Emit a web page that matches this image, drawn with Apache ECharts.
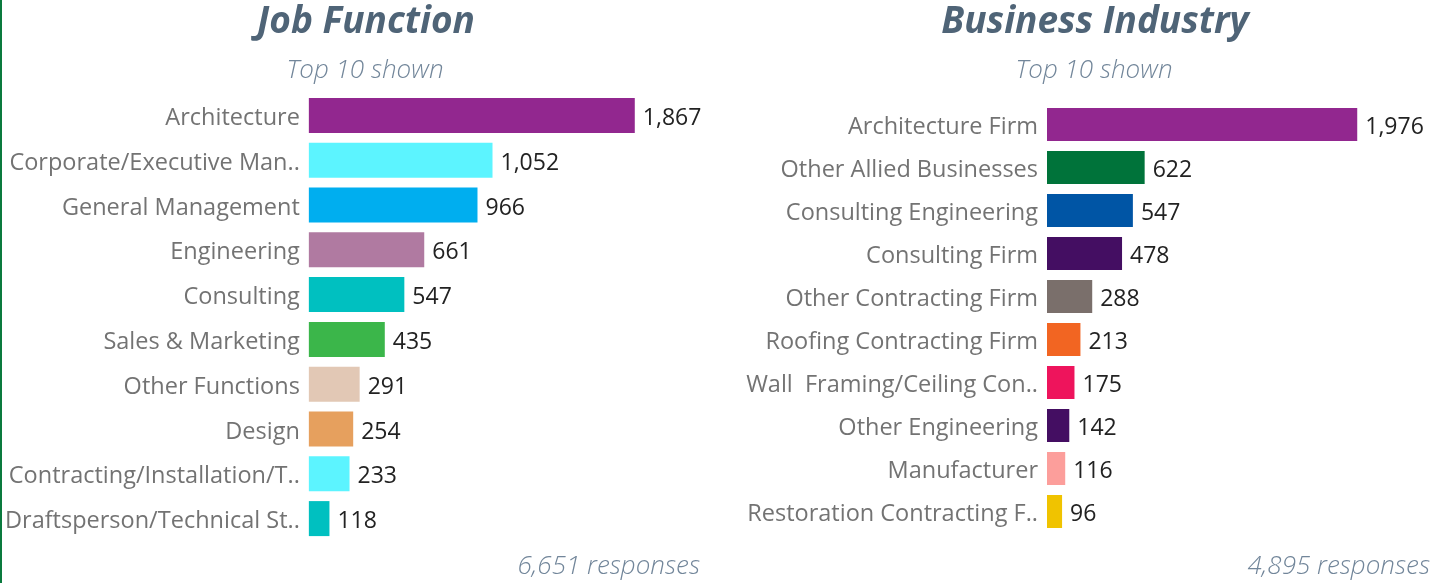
<!DOCTYPE html>
<html>
<head>
<meta charset="utf-8">
<script src="https://cdn.jsdelivr.net/npm/echarts@6/dist/echarts.min.js"></script>
<style>
  html, body { margin: 0; padding: 0; background: #fff; }
  #chart { width: 1434px; height: 583px; box-sizing: border-box; border-left: 2px solid #0a7a3e; }
</style>
</head>
<body>
<div id="chart"></div>
<script>
/* 数据 */
const jobNames = ['Architecture', 'Corporate/Executive Man..', 'General Management', 'Engineering', 'Consulting',
    'Sales & Marketing', 'Other Functions', 'Design', 'Contracting/Installation/T..', 'Draftsperson/Technical St..'];
const jobValues = [1867, 1052, 966, 661, 547, 435, 291, 254, 233, 118];
const jobColors = ['#92278f', '#5cf4ff', '#00aeef', '#b07aa1', '#00c0c0', '#3bb64a', '#e2c8b5', '#e6a05e', '#5cf4ff', '#00c0c0'];

const bizNames = ['Architecture Firm', 'Other Allied Businesses', 'Consulting Engineering', 'Consulting Firm',
    'Other Contracting Firm', 'Roofing Contracting Firm', 'Wall  Framing/Ceiling Con..', 'Other Engineering',
    'Manufacturer', 'Restoration Contracting F..'];
const bizValues = [1976, 622, 547, 478, 288, 213, 175, 142, 116, 96];
const bizColors = ['#92278f', '#00733a', '#0055a5', '#440e62', '#7a6f6b', '#f26522', '#ee145c', '#440e62', '#fc9e9b', '#f0c300'];

const FONT = '"Open Sans", "Noto Sans", sans-serif';
const titleColor = '#4f6477';
const subColor = '#72869a';

function fmt (v) {
    return v.toLocaleString('en-US');
}

function barSeries (idx, values, colors, barW) {
    return {
        type: 'bar',
        xAxisIndex: idx,
        yAxisIndex: idx,
        barWidth: barW,
        data: values.map((v, i) => ({ value: v, itemStyle: { color: colors[i] } })),
        label: {
            show: true,
            position: 'right',
            distance: 8,
            color: '#222',
            fontFamily: FONT,
            fontSize: 23,
            offset: [0, 3],
            formatter: (p) => fmt(p.value)
        },
        silent: true
    };
}

function catAxis (idx, names) {
    return {
        type: 'category',
        gridIndex: idx,
        inverse: true,
        data: names,
        axisLine: { show: false },
        axisTick: { show: false },
        axisLabel: {
            color: '#737373', fontFamily: FONT, fontSize: 23.5, margin: 9,
            verticalAlign: 'top', lineHeight: 6   /* 文字略往下移 */
        }
    };
}

function valAxis (idx) {
    return {
        type: 'value',
        gridIndex: idx,
        min: 0,
        max: 2000,
        show: false
    };
}

const titleStyle = { color: titleColor, fontFamily: FONT, fontSize: 37, fontWeight: 'bold', fontStyle: 'italic' };
const subStyle = { color: subColor, fontFamily: FONT, fontSize: 26, fontWeight: 300, fontStyle: 'italic' };

const option = {
    animation: false,
    title: [
        { text: 'Job Function', left: 359, top: -1, textAlign: 'center', textStyle: titleStyle },
        { text: 'Top 10 shown', left: 358, top: 53, textAlign: 'center', textStyle: subStyle },
        { text: 'Business Industry', left: 1088, top: -1, textAlign: 'center', textStyle: titleStyle },
        { text: 'Top 10 shown', left: 1087, top: 53, textAlign: 'center', textStyle: subStyle },
        { text: '6,651 responses', right: 729, top: 549, textStyle: subStyle },
        { text: '4,895 responses', right: -1, top: 549, textStyle: subStyle }
    ],
    grid: [
        { left: 306, top: 93, width: 350, height: 448 },
        { left: 1045, top: 103, width: 314, height: 430 }
    ],
    xAxis: [valAxis(0), valAxis(1)],
    yAxis: [catAxis(0, jobNames), catAxis(1, bizNames)],
    series: [
        barSeries(0, jobValues, jobColors, 35),
        barSeries(1, bizValues, bizColors, 33)
    ]
};

const myChart = echarts.init(document.getElementById('chart'));
myChart.setOption(option);
</script>
</body>
</html>
